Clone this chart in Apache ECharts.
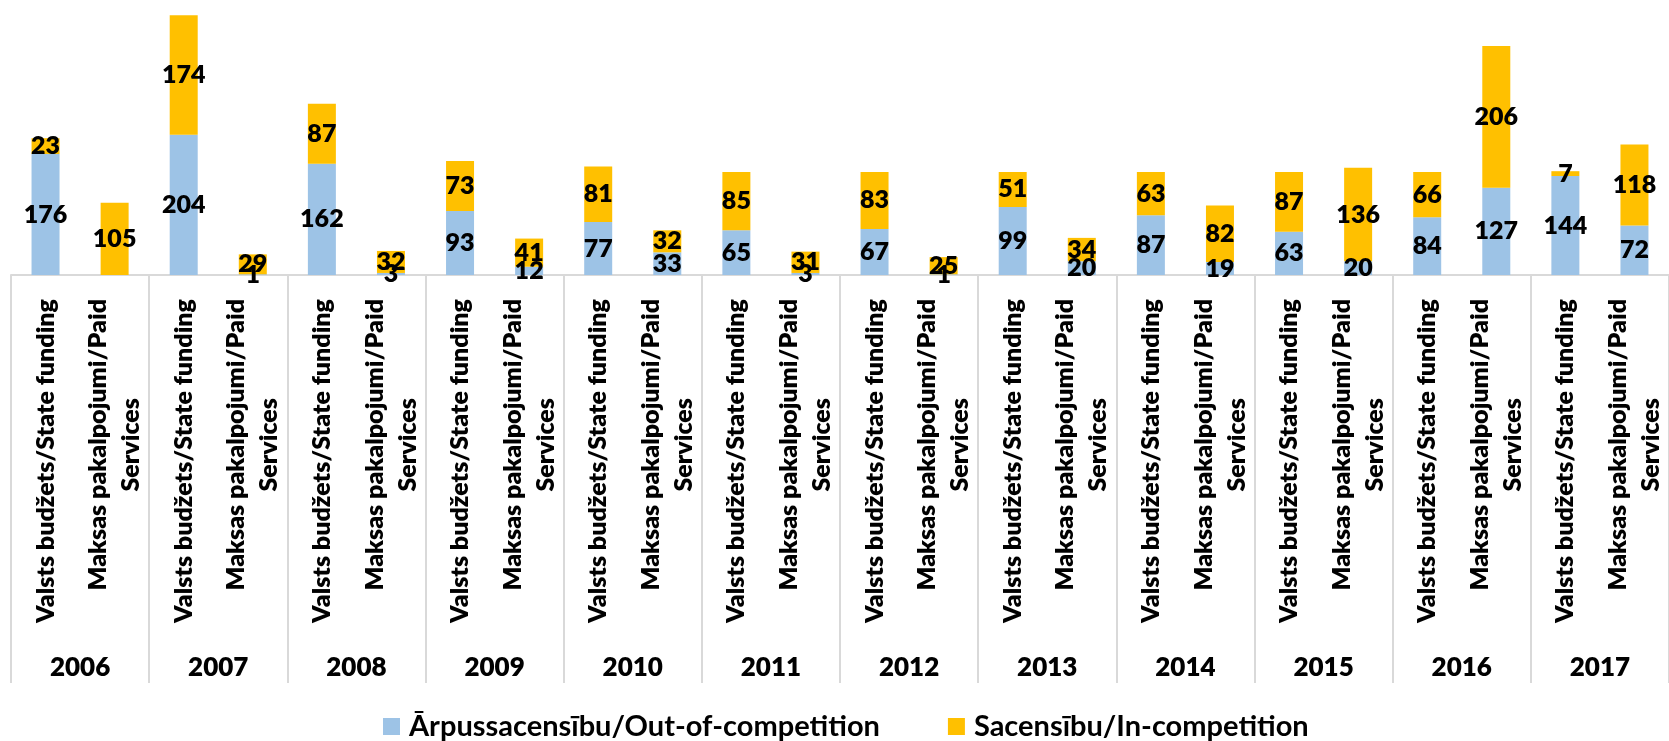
<!DOCTYPE html>
<html>
<head>
<meta charset="utf-8">
<title>Dopinga kontroles</title>
<script src="https://cdn.jsdelivr.net/npm/echarts@6/dist/echarts.min.js"></script>
<style>
    html, body {
        margin: 0;
        padding: 0;
        background: #fff;
    }
    #chart {
        width: 1669px;
        height: 741px;
    }
</style>
</head>
<body>
<div id="chart"></div>
<script>
// gadi (augšējais līmenis)
const years = ['2006', '2007', '2008', '2009', '2010', '2011', '2012', '2013', '2014', '2015', '2016', '2017']
// finansējuma veidi katram gadam
const types = ['Valsts budžets/State funding', 'Maksas pakalpojumi/Paid\nServices']

// Ārpussacensību / Out-of-competition (pa pāriem: valsts, maksas)
const outComp = [176, 0, 204, 1, 162, 3, 93, 12, 77, 33, 65, 3, 67, 1, 99, 20, 87, 19, 63, 20, 84, 127, 144, 72]
// Sacensību / In-competition
const inComp = [23, 105, 174, 29, 87, 32, 73, 41, 81, 32, 85, 31, 83, 25, 51, 34, 63, 82, 87, 136, 66, 206, 7, 118]

const seriesNames = ['Ārpussacensību/Out-of-competition', 'Sacensību/In-competition']

// 24 kategorijas = gads x veids
const categories = []
years.forEach(() => {
    types.forEach(t => categories.push(t))
})

const FONT = 'Lato'
const labelFont = {
    fontFamily: FONT,
    fontWeight: 800,
    fontSize: 25,
    color: '#000'
}

// datu uzraksti stabiņos (bez krāsainās apmales)
const barLabel = Object.assign({
    show: true,
    position: 'inside',
    textBorderWidth: 0,
    textBorderColor: 'transparent',
    formatter: p => p.value === 0 ? '' : p.value
}, labelFont)

const chart = echarts.init(document.getElementById('chart'))

const option = {
    animation: false,
    textStyle: {fontFamily: FONT},
    grid: {
        left: 11,
        top: -2,
        width: 1669,
        height: 277,
        containLabel: false
    },
    legend: {
        left: 378,
        top: 707,
        itemWidth: 17,
        itemHeight: 17,
        itemGap: 68,
        icon: 'rect',
        textStyle: {
            fontFamily: FONT,
            fontWeight: 'bold',
            fontSize: 29,
            color: '#000',
            padding: [0, 0, 0, 4]
        },
        data: seriesNames
    },
    xAxis: [
        {
            // apakškategorijas (pagriezti uzraksti)
            type: 'category',
            data: categories,
            position: 'bottom',
            axisLine: {show: false},
            axisTick: {show: false},
            axisLabel: {
                interval: 0,
                rotate: 90,
                margin: 24,
                formatter: v => v.split('\n').map(s => '{c|' + s + '}').join('\n'),
                rich: {
                    c: Object.assign({align: 'center', lineHeight: 33}, labelFont)
                }
            }
        },
        {
            // gadi ar vertikālām atdalītājlīnijām
            type: 'category',
            data: years,
            position: 'bottom',
            axisLine: {show: true, lineStyle: {color: '#d9d9d9', width: 2}},
            axisTick: {
                show: true,
                interval: 0,
                length: 408,
                lineStyle: {color: '#d9d9d9', width: 2}
            },
            axisLabel: {
                interval: 0,
                margin: 380,
                fontFamily: FONT,
                fontWeight: 800,
                fontSize: 26,
                color: '#000'
            }
        }
    ],
    yAxis: {
        type: 'value',
        show: false,
        min: 0,
        max: 400,
        splitLine: {show: false}
    },
    series: [
        {
            name: seriesNames[0],
            type: 'bar',
            stack: 'total',
            xAxisIndex: 0,
            barWidth: 28,
            itemStyle: {color: '#9dc3e6'},
            label: barLabel,
            data: outComp
        },
        {
            name: seriesNames[1],
            type: 'bar',
            stack: 'total',
            xAxisIndex: 0,
            barWidth: 28,
            itemStyle: {color: '#ffc000'},
            label: barLabel,
            data: inComp
        }
    ]
}

chart.setOption(option)
</script>
</body>
</html>
